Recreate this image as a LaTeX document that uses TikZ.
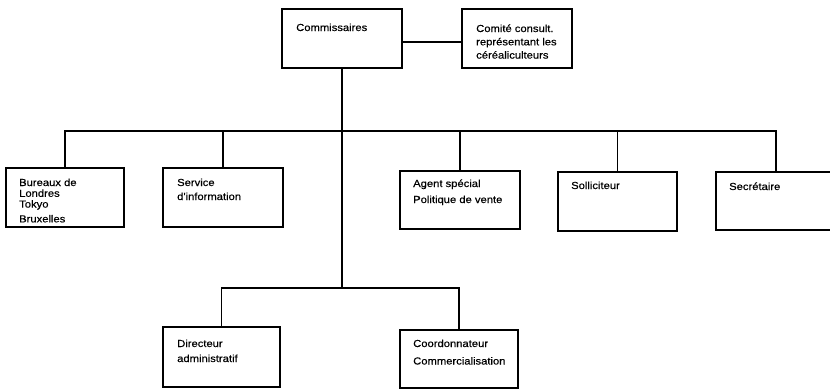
\documentclass[tikz,border=0pt]{standalone}
\usepackage{fontspec}
\setmainfont{Liberation Sans}
\newfontfamily\orgfont[FakeStretch=1.1,FakeBold=0.4]{Liberation Sans}
\usetikzlibrary{fit}
% stacked lines of a label, first baseline is the node's baseline
\newcommand\stk[2]{\vtop{\baselineskip=#1\lineskiplimit=-100pt\lineskip=0pt #2}}
\newcommand\orgline[1]{\hbox{#1}}
\begin{document}
\begin{tikzpicture}[x=1pt,y=-1pt,
  unit/.style={draw, line width=1.1pt, inner sep=0pt},
  lbl/.style={inner sep=0pt, anchor=base west, font=\orgfont\fontsize{10.2}{12}\selectfont},
  link/.style={line width=1.1pt}]
\useasboundingbox (0,0) rectangle (830,391);
\clip (0,0) rectangle (830,391);

% boxes
\node[unit, fit={(282,9) (402,68)}] (com) {};
\node[unit, fit={(462,9) (572,68)}] (cc) {};
\node[unit, fit={(6,168) (124,227)}] (bur) {};
\node[unit, fit={(163,168) (283,227)}] (svc) {};
\node[unit, fit={(400,171) (520,229)}] (agt) {};
\node[unit, fit={(558,172) (677,231)}] (sol) {};
\node[unit, fit={(716,172) (836,230)}] (sec) {};
\node[unit, fit={(163,327) (280,387)}] (dir) {};
\node[unit, fit={(400,330) (518,388)}] (coo) {};

% labels
\node[lbl] (comT) at (296,31) {Commissaires};
\node[lbl] (ccT) at (476,32) {\stk{13.3pt}{\orgline{Comité consult.}\orgline{représentant les}\orgline{céréaliculteurs}}};
\node[lbl] (burT) at (19,186) {\stk{10.8pt}{\orgline{Bureaux de}\orgline{Londres}\orgline{Tokyo}\vskip4pt\orgline{Bruxelles}}};
\node[lbl] (svcT) at (177,186) {\stk{14pt}{\orgline{Service}\orgline{d'information}}};
\node[lbl] (agtT) at (413,187) {\stk{16pt}{\orgline{Agent spécial}\orgline{Politique de vente}}};
\node[lbl] (solT) at (571,189) {Solliciteur};
\node[lbl] (secT) at (729,190) {Secrétaire};
\node[lbl] (dirT) at (177,347) {\stk{15pt}{\orgline{Directeur}\orgline{administratif}}};
\node[lbl] (cooT) at (413,347) {\stk{17.5pt}{\orgline{Coordonnateur}\orgline{Commercialisation}}};

% connector levels
\coordinate (tie) at (0,42);
\coordinate (busA) at (0,131);
\coordinate (busB) at (0,288);

\draw[link] (com.east |- tie) -- (cc.west |- tie);
\draw[link] (com.south) -- (com.south |- busB);
\draw[link] (bur.north) -- (bur.north |- busA) -- (sec.north |- busA) -- (sec.north);
\draw[link] (svc.north) -- (svc.north |- busA);
\draw[link] (agt.north) -- (agt.north |- busA);
\draw[link] (sol.north) -- (sol.north |- busA);
\draw[link] (dir.north) -- (dir.north |- busB) -- (coo.north |- busB) -- (coo.north);
\end{tikzpicture}
\end{document}
